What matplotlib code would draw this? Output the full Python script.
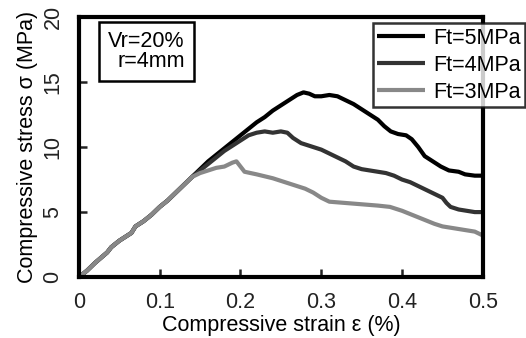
import matplotlib
matplotlib.use("Agg")
from matplotlib import pyplot as plt

plt.rcParams['font.family'] = ['Liberation Sans', 'DejaVu Sans']

# shared elastic branch
base_strain = [0, 0.01, 0.02, 0.035, 0.04, 0.05, 0.065, 0.07, 0.08, 0.09, 0.1, 0.11, 0.12, 0.13, 0.14]
base_stress = [0, 0.5, 1.1, 1.9, 2.3, 2.8, 3.4, 3.9, 4.3, 4.8, 5.4, 5.9, 6.5, 7.1, 7.7]

ft5_strain = base_strain + [0.15, 0.16, 0.17, 0.18, 0.19, 0.2, 0.21, 0.22, 0.23, 0.24, 0.25, 0.26,
                            0.27, 0.278, 0.285, 0.292, 0.30, 0.31, 0.32, 0.33, 0.34, 0.35, 0.36,
                            0.37, 0.378, 0.386, 0.395, 0.405, 0.412, 0.42, 0.428, 0.438, 0.448,
                            0.458, 0.47, 0.478, 0.49, 0.5]
ft5_stress = base_stress + [8.3, 8.9, 9.4, 9.9, 10.4, 10.9, 11.4, 11.9, 12.3, 12.8, 13.2, 13.6,
                            14.0, 14.2, 14.1, 13.9, 13.9, 14.0, 13.9, 13.6, 13.3, 12.9, 12.5,
                            12.1, 11.6, 11.2, 11.0, 10.9, 10.6, 10.0, 9.3, 8.9, 8.5,
                            8.2, 8.1, 7.9, 7.8, 7.8]

ft4_strain = base_strain + [0.15, 0.16, 0.17, 0.18, 0.19, 0.2, 0.21, 0.22, 0.23, 0.24, 0.25, 0.258,
                            0.265, 0.275, 0.29, 0.30, 0.31, 0.32, 0.33, 0.34, 0.35, 0.36, 0.38,
                            0.39, 0.40, 0.41, 0.42, 0.43, 0.44, 0.45, 0.455, 0.46, 0.47, 0.48,
                            0.49, 0.5]
ft4_stress = base_stress + [8.2, 8.7, 9.2, 9.7, 10.1, 10.5, 10.9, 11.1, 11.2, 11.1, 11.2, 11.1,
                            10.7, 10.3, 10.0, 9.8, 9.5, 9.2, 8.9, 8.5, 8.3, 8.2, 8.0,
                            7.8, 7.5, 7.3, 7.0, 6.7, 6.4, 6.1, 5.7, 5.4, 5.2, 5.1,
                            5.0, 5.0]

ft3_strain = base_strain + [0.15, 0.16, 0.17, 0.18, 0.19, 0.195, 0.2, 0.205, 0.22, 0.24, 0.26,
                            0.28, 0.29, 0.30, 0.31, 0.33, 0.35, 0.37, 0.385, 0.40, 0.42, 0.44,
                            0.45, 0.47, 0.49, 0.5]
ft3_stress = base_stress + [8.0, 8.2, 8.4, 8.5, 8.8, 8.9, 8.5, 8.1, 7.9, 7.6, 7.2,
                            6.8, 6.5, 6.1, 5.8, 5.7, 5.6, 5.5, 5.4, 5.1, 4.6, 4.1,
                            3.9, 3.7, 3.5, 3.2]

labels = ['Ft=5MPa', 'Ft=4MPa', 'Ft=3MPa']
colors = ['#000000', '#333333', '#888888']
fs = 15.5

fig = plt.figure(figsize=(5.26, 3.38), dpi=100)
ax = fig.add_axes([0.150, 0.180, 0.768, 0.770])

for xs, ys, lab, c in zip([ft5_strain, ft4_strain, ft3_strain],
                          [ft5_stress, ft4_stress, ft3_stress], labels, colors):
    ax.plot(xs, ys, color=c, lw=3.0, label=lab, solid_capstyle='butt')

ax.set_xlim(0, 0.5)
ax.set_ylim(0, 20)
ax.set_xticks([0, 0.1, 0.2, 0.3, 0.4, 0.5])
ax.set_xticklabels(['0', '0.1', '0.2', '0.3', '0.4', '0.5'])
ax.set_yticks([0, 5, 10, 15, 20])
for s in ax.spines.values():
    s.set_linewidth(3.0)
ax.tick_params(direction='in', length=6, width=1.8, labelsize=fs, colors='#222222', pad=11)
for t in ax.get_yticklabels():
    t.set_rotation(90)
    t.set_va('center')
ax.set_xlabel('Compressive strain ε (%)', fontsize=fs, labelpad=1)
ax.set_ylabel('Compressive stress σ (MPa)', fontsize=fs, labelpad=3)

ax.text(0.262, 0.945, 'Vr=20%\nr=4mm', transform=ax.transAxes, ha='right', va='top',
        fontsize=fs, linespacing=0.9,
        bbox=dict(boxstyle='square,pad=0.45', fc='white', ec='black', lw=1.8))

leg = ax.legend(loc='upper right', bbox_to_anchor=(1.105, 0.975), fontsize=fs,
                frameon=True, fancybox=False, edgecolor='black', handlelength=2.2,
                borderpad=0.2, labelspacing=0.28, handletextpad=0.4, borderaxespad=0)
leg.get_frame().set_linewidth(1.8)
leg.set_zorder(5)

plt.savefig('out.png', dpi=100)
